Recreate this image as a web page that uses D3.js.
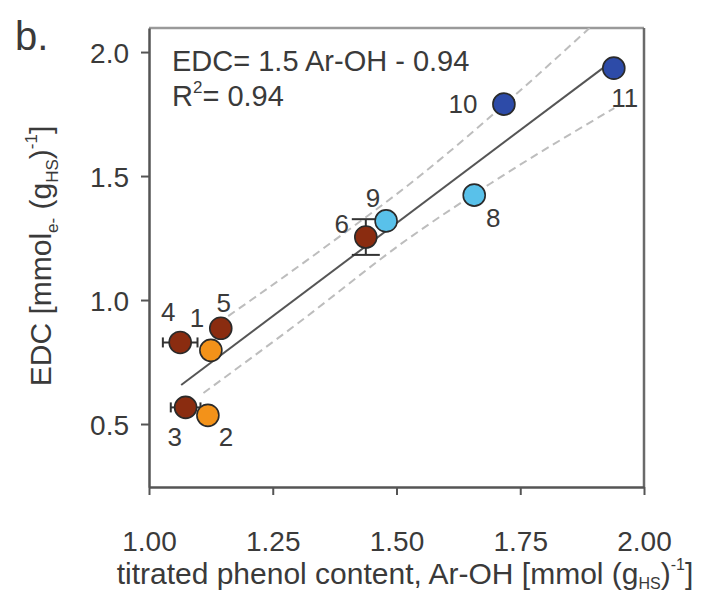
<!DOCTYPE html>
<html>
<head>
<meta charset="utf-8">
<script src="https://cdn.jsdelivr.net/npm/d3@7"></script>
<style>
  html, body { margin: 0; padding: 0; background: #fff; }
  svg { display: block; }
  text { font-family: "Liberation Sans", Arial, Helvetica, sans-serif; fill: #3a3a3a; }
</style>
</head>
<body>
<svg id="chart" width="712" height="595"></svg>
<script>
// ---- data ----
const labels = ["1", "2", "3", "4", "5", "6", "8", "9", "10", "11"];
const arOH   = [1.125, 1.119, 1.074, 1.063, 1.145, 1.438, 1.657, 1.479, 1.717, 1.939];
const edc    = [0.797, 0.535, 0.567, 0.829, 0.886, 1.254, 1.423, 1.319, 1.790, 1.935];
const xErr   = [0, 0, 0.03, 0.035, 0, 0, 0, 0, 0.02, 0];
const yErr   = [0, 0, 0, 0, 0, 0.072, 0, 0, 0.03, 0];
const groups = ["orange", "orange", "brown", "brown", "brown", "brown", "lightblue", "lightblue", "darkblue", "darkblue"];

const fitSlope = 1.5, fitIntercept = -0.94;
const fitRange = [1.065, 1.935];
const upperBandX = [1.16, 1.35, 1.55, 1.75, 1.89];
const upperBandY = [0.935, 1.205, 1.505, 1.845, 2.097];
const lowerBandX = [1.11, 1.30, 1.52, 1.69, 1.94];
const lowerBandY = [0.625, 0.905, 1.242, 1.47, 1.774];

const xTicks = [1.00, 1.25, 1.50, 1.75, 2.00];
const yTicks = [0.5, 1.0, 1.5, 2.0];
const xDomain = [1.0, 2.0];
const yDomain = [0.246, 2.097];

// ---- layout ----
const svg = d3.select("#chart");
const L = 149, R = 644, T = 28, B = 487;
const x = d3.scaleLinear().domain(xDomain).range([L, R]);
const y = d3.scaleLinear().domain(yDomain).range([B, T]);

const colors = { orange: "#F39219", brown: "#8A2C10", lightblue: "#59C1EA", darkblue: "#2D4BA8" };
// label offsets (pixels) relative to the point centre
const labelOffset = {
  "1": [-14, -23], "2": [18, 31], "3": [-11, 39], "4": [-12, -21], "5": [3, -16],
  "6": [-24, -4], "8": [19, 32], "9": [-13, -14], "10": [-41, 9], "11": [11, 39]
};

// frame (top & right)
svg.append("line").attr("x1", L).attr("x2", R).attr("y1", T).attr("y2", T)
  .attr("stroke", "#9a9a9a").attr("stroke-width", 2.5);
svg.append("line").attr("x1", R).attr("x2", R).attr("y1", T).attr("y2", B)
  .attr("stroke", "#6a6a6a").attr("stroke-width", 2.5);

// clip
svg.append("clipPath").attr("id", "clip").append("rect")
  .attr("x", L).attr("y", T).attr("width", R - L).attr("height", B - T);

// axes
const xAxis = svg.append("g").attr("transform", `translate(0,${B})`)
  .call(d3.axisBottom(x).tickValues(xTicks).tickFormat(d3.format(".2f")).tickSize(8).tickSizeOuter(0));
const yAxis = svg.append("g").attr("transform", `translate(${L},0)`)
  .call(d3.axisLeft(y).tickValues(yTicks).tickFormat(d3.format(".1f")).tickSize(8).tickSizeOuter(0));
[xAxis, yAxis].forEach(g => {
  g.select(".domain").attr("stroke", "#555").attr("stroke-width", 2.5);
  g.selectAll(".tick line").attr("stroke", "#555").attr("stroke-width", 2);
  g.selectAll(".tick text").attr("font-size", 28).attr("fill", "#3a3a3a")
    .style("font-family", '"Liberation Sans", Arial, sans-serif');
});
xAxis.selectAll(".tick text").attr("dy", "1.9em");
yAxis.selectAll(".tick text").attr("x", -20).attr("dy", "0.36em");

// bands
const plot = svg.append("g").attr("clip-path", "url(#clip)");
const bandLine = d3.line().x(d => x(d[0])).y(d => y(d[1])).curve(d3.curveMonotoneX);
[[upperBandX, upperBandY], [lowerBandX, lowerBandY]].forEach(([bx, by]) => {
  plot.append("path").datum(bx.map((v, i) => [v, by[i]]))
    .attr("d", bandLine).attr("fill", "none")
    .attr("stroke", "#bdbdbd").attr("stroke-width", 2).attr("stroke-dasharray", "8,5");
});
// fit line
plot.append("line")
  .attr("x1", x(fitRange[0])).attr("y1", y(fitSlope * fitRange[0] + fitIntercept))
  .attr("x2", x(fitRange[1])).attr("y2", y(fitSlope * fitRange[1] + fitIntercept))
  .attr("stroke", "#555").attr("stroke-width", 2);

// error bars
const eb = svg.append("g").attr("stroke", "#333").attr("stroke-width", 2);
labels.forEach((lab, i) => {
  const cx = x(arOH[i]), cy = y(edc[i]);
  if (xErr[i] > 0) {
    const x0 = x(arOH[i] - xErr[i]), x1 = x(arOH[i] + xErr[i]);
    eb.append("line").attr("x1", x0).attr("x2", x1).attr("y1", cy).attr("y2", cy);
    eb.append("line").attr("x1", x0).attr("x2", x0).attr("y1", cy - 5).attr("y2", cy + 5);
    eb.append("line").attr("x1", x1).attr("x2", x1).attr("y1", cy - 5).attr("y2", cy + 5);
  }
  if (yErr[i] > 0) {
    const y0 = y(edc[i] - yErr[i]), y1 = y(edc[i] + yErr[i]);
    const cw = yErr[i] > 0.05 ? 14 : 6;
    eb.append("line").attr("x1", cx).attr("x2", cx).attr("y1", y0).attr("y2", y1);
    eb.append("line").attr("x1", cx - cw).attr("x2", cx + cw).attr("y1", y0).attr("y2", y0);
    eb.append("line").attr("x1", cx - cw).attr("x2", cx + cw).attr("y1", y1).attr("y2", y1);
  }
});

// points
svg.append("g").selectAll("circle").data(labels).join("circle")
  .attr("cx", (d, i) => x(arOH[i])).attr("cy", (d, i) => y(edc[i]))
  .attr("r", 11)
  .attr("fill", (d, i) => colors[groups[i]])
  .attr("stroke", "#2a2a2a").attr("stroke-width", 1.6);

// point labels
svg.append("g").selectAll("text").data(labels).join("text")
  .attr("x", (d, i) => x(arOH[i]) + labelOffset[d][0])
  .attr("y", (d, i) => y(edc[i]) + labelOffset[d][1])
  .attr("text-anchor", "middle").attr("font-size", 26)
  .text(d => d);

// equation
svg.append("text").attr("x", 172).attr("y", 71).attr("font-size", 29).text("EDC= 1.5 Ar-OH - 0.94");
const r2 = svg.append("text").attr("x", 172).attr("y", 106).attr("font-size", 29);
r2.append("tspan").text("R");
r2.append("tspan").attr("font-size", 17).attr("dy", -13).text("2");
r2.append("tspan").attr("dy", 13).text("= 0.94");

// panel letter
svg.append("text").attr("x", 15).attr("y", 50).attr("font-size", 40).attr("fill", "#111").text("b.");

// x label
const xl = svg.append("text").attr("x", 405).attr("y", 584).attr("text-anchor", "middle").attr("font-size", 30);
xl.append("tspan").text("titrated phenol content, Ar-OH [mmol (g");
xl.append("tspan").attr("font-size", 16).attr("dy", 5).text("HS");
xl.append("tspan").attr("dy", -5).text(")");
xl.append("tspan").attr("font-size", 16).attr("dy", -14).text("-1");
xl.append("tspan").attr("dy", 14).text("]");

// y label
const yl = svg.append("text").attr("transform", "translate(51,256) rotate(-90)")
  .attr("text-anchor", "middle").attr("font-size", 30);
yl.append("tspan").text("EDC [mmol");
yl.append("tspan").attr("font-size", 17).attr("dy", 7).text("e-");
yl.append("tspan").attr("dy", -7).text(" (g");
yl.append("tspan").attr("font-size", 17).attr("dy", 7).text("HS");
yl.append("tspan").attr("dy", -7).text(")");
yl.append("tspan").attr("font-size", 17).attr("dy", -14).text("-1");
yl.append("tspan").attr("dy", 14).text("]");
</script>
</body>
</html>
